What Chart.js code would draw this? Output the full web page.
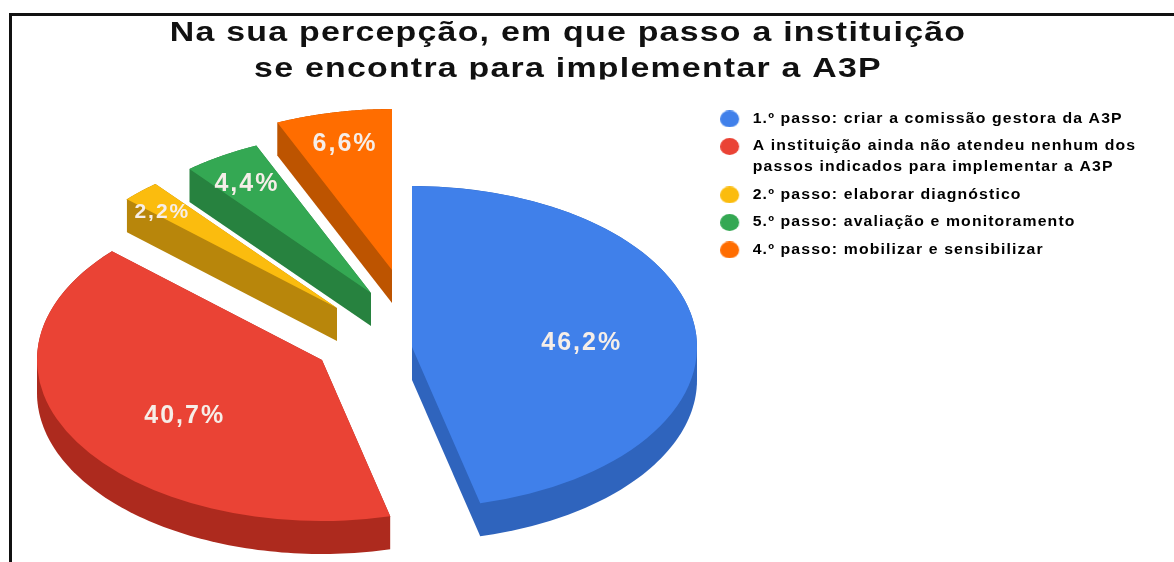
<!DOCTYPE html>
<html lang="pt">
<head>
<meta charset="utf-8">
<title>Passo da A3P na instituição</title>
<script src="https://cdn.jsdelivr.net/npm/chart.js@4"></script>
<style>
  html, body { margin: 0; padding: 0; background: #fff; overflow: hidden; }
  #wrap { position: relative; width: 1174px; height: 562px; }
  #frame { position: absolute; left: 9px; top: 13px; right: 0; bottom: 0; border-left: 3px solid #111; border-top: 3px solid #111; box-sizing: border-box; pointer-events: none; }
</style>
</head>
<body>
<div id="wrap">
  <canvas id="chart" width="1174" height="562"></canvas>
  <div id="frame"></div>
</div>
<script>
const titleLines = [
  'Na sua percepção, em que passo a instituição',
  'se encontra para implementar a A3P'
];
const categories = [
  ['1.º passo: criar a comissão gestora da A3P'],
  ['A instituição ainda não atendeu nenhum dos', 'passos indicados para implementar a A3P'],
  ['2.º passo: elaborar diagnóstico'],
  ['5.º passo: avaliação e monitoramento'],
  ['4.º passo: mobilizar e sensibilizar']
];
const shares = [46.2, 40.7, 2.2, 4.4, 6.6];
const faceColors = ['#4080ea', '#ea4335', '#fbbc0e', '#34a853', '#ff6d00'];
const wallColors = ['#2f64bd', '#ad2a1e', '#b8860b', '#27823f', '#bd5400'];

// Pie geometry on the page: tilt flattens the circle into an ellipse
const pieRadius = 285;
const tilt = 161 / 285;
const pieX = 412;
const pieY = 347;
const wallDepth = 33;
// How far each slice is pulled out of the pie, in page pixels
const pullX = [0, -90, -75, -41, -20];
const pullY = [0, 13, -39, -54, -77];
// Where each value label sits along the slice's middle radius, its nudge and size
const labelReach = [0.6, 0.56, 0.89, 0.83, 0.8];
const labelDrop = [8, 10, 8, 5, 0];
const labelSize = [25, 25, 21, 25, 25];
// Wide-set lettering of the title and legend
const titleStretch = 1.254;
const titleCentre = 568;
const titleClipBottom = 79.5;
const legendStretch = 1.128;
const legendLeft = 720;

function dotMarker(color) {
  const c = document.createElement('canvas');
  c.width = 22;
  c.height = 17;
  const g = c.getContext('2d');
  g.fillStyle = color;
  g.beginPath();
  g.arc(8.5, 8.5, 8.5, 0, Math.PI * 2);
  g.fill();
  return c;
}

// Convex outline of a slice swept straight down by the wall depth
function wallOutline(arc) {
  const pts = [];
  const add = (x, y) => { pts.push([x, y * tilt]); pts.push([x, y * tilt + wallDepth]); };
  add(arc.x, arc.y);
  const steps = 120;
  for (let s = 0; s <= steps; s++) {
    const a = arc.startAngle + (arc.endAngle - arc.startAngle) * s / steps;
    add(arc.x + Math.cos(a) * arc.outerRadius, arc.y + Math.sin(a) * arc.outerRadius);
  }
  pts.sort((p, q) => p[0] - q[0] || p[1] - q[1]);
  const cross = (o, p, q) => (p[0] - o[0]) * (q[1] - o[1]) - (p[1] - o[1]) * (q[0] - o[0]);
  const chain = list => {
    const out = [];
    for (const p of list) {
      while (out.length > 1 && cross(out[out.length - 2], out[out.length - 1], p) <= 0) out.pop();
      out.push(p);
    }
    out.pop();
    return out;
  };
  return chain(pts).concat(chain(pts.slice().reverse()));
}

// Runs a box's own draw inside an extra canvas transform
function wrapDraw(box, before) {
  const draw = box.draw;
  box.draw = function (area) {
    const ctx = box.ctx;
    ctx.save();
    before(ctx);
    draw.call(box, area);
    ctx.restore();
  };
}

const tiltedPie = {
  id: 'tiltedPie',
  beforeLayout(chart) { chart.ctx.letterSpacing = '1px'; },
  beforeDraw(chart) {
    chart.ctx.letterSpacing = '1px';
    if (chart.$wrapped) return;
    chart.$wrapped = true;
    wrapDraw(chart.titleBlock, ctx => {
      ctx.beginPath();
      ctx.rect(0, 0, chart.width, titleClipBottom);
      ctx.clip();
      ctx.translate(titleCentre, 0);
      ctx.scale(titleStretch, 1);
      ctx.translate(-titleCentre, 0);
    });
    wrapDraw(chart.legend, ctx => {
      ctx.translate(legendLeft, 0);
      ctx.scale(legendStretch, 1);
      ctx.translate(-chart.legend.legendHitBoxes[0].left, 0);
    });
  },
  afterDatasetsUpdate(chart) {
    chart.getDatasetMeta(0).data.forEach((arc, i) => {
      arc.x = pieX + pullX[i];
      arc.y = (pieY + pullY[i]) / tilt;
    });
  },
  beforeDatasetDraw(chart, args) {
    const ctx = chart.ctx;
    // Side walls go in first, the library paints the top faces over them
    args.meta.data.forEach((arc, i) => {
      ctx.fillStyle = wallColors[i];
      ctx.beginPath();
      wallOutline(arc).forEach(p => ctx.lineTo(p[0], p[1]));
      ctx.closePath();
      ctx.fill();
    });
    ctx.save();
    ctx.scale(1, tilt);
  },
  afterDatasetDraw(chart, args) {
    const ctx = chart.ctx;
    ctx.restore();
    ctx.save();
    ctx.textAlign = 'center';
    ctx.textBaseline = 'middle';
    ctx.fillStyle = '#f6eee8';
    ctx.letterSpacing = '2px';
    args.meta.data.forEach((arc, i) => {
      const mid = (arc.startAngle + arc.endAngle) / 2;
      const r = arc.outerRadius * labelReach[i];
      ctx.font = 'bold ' + labelSize[i] + 'px "Liberation Sans", Arial, sans-serif';
      const text = shares[i].toFixed(1).replace('.', ',') + '%';
      ctx.fillText(text, arc.x + Math.cos(mid) * r, (arc.y + Math.sin(mid) * r) * tilt + labelDrop[i]);
    });
    ctx.restore();
  }
};

new Chart(document.getElementById('chart'), {
  type: 'pie',
  data: {
    labels: categories,
    datasets: [{
      data: shares,
      backgroundColor: faceColors,
      borderWidth: 0,
      radius: pieRadius,
      clip: false
    }]
  },
  options: {
    responsive: false,
    animation: false,
    events: [],
    layout: { padding: { right: 38 } },
    plugins: {
      tooltip: { enabled: false },
      title: {
        display: true,
        text: titleLines,
        color: '#111',
        font: { family: '"Liberation Sans", Arial, sans-serif', size: 27, weight: 'bold', lineHeight: 1.333 },
        padding: { top: 16, bottom: 17.5 }
      },
      legend: {
        position: 'right',
        align: 'start',
        fullSize: false,
        labels: {
          color: '#555',
          font: { family: '"Liberation Sans", Arial, sans-serif', size: 14, weight: 'bold', lineHeight: 1.5 },
          padding: 6.5,
          usePointStyle: true,
          pointStyleWidth: 22,
          generateLabels(chart) {
            return categories.map((text, i) => ({
              text,
              index: i,
              fillStyle: faceColors[i],
              strokeStyle: faceColors[i],
              lineWidth: 0,
              pointStyle: dotMarker(faceColors[i])
            }));
          }
        }
      }
    }
  },
  plugins: [tiltedPie]
});
</script>
</body>
</html>
